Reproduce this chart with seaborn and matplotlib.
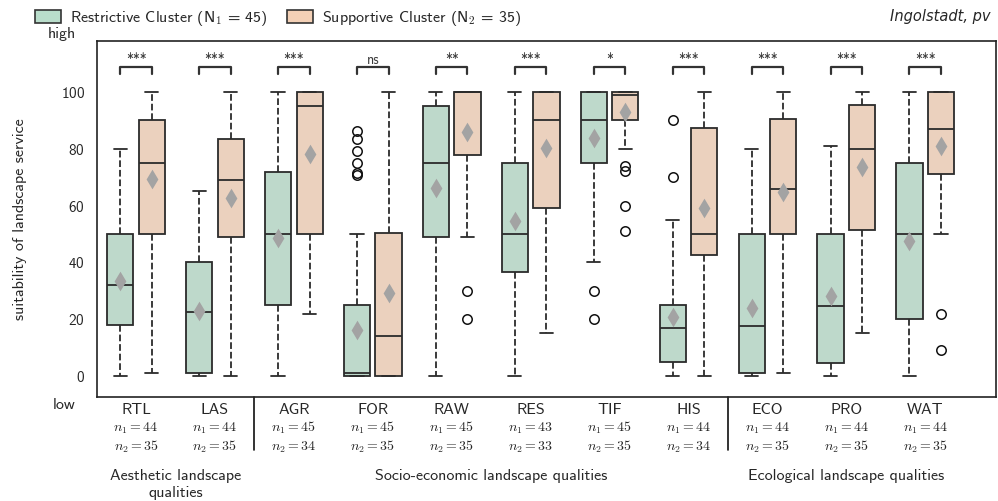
import pandas as pd
import matplotlib.pyplot as plt
import matplotlib.transforms as mtransforms
from matplotlib.patches import Patch
import seaborn as sns

# Categories and sample sizes
categories = ["RTL", "LAS", "AGR", "FOR", "RAW", "RES", "TIF", "HIS", "ECO", "PRO", "WAT"]
n1 = [44, 44, 45, 45, 45, 43, 45, 44, 44, 44, 44]
n2 = [35, 35, 34, 35, 35, 33, 35, 34, 35, 35, 35]
signif = ["***", "***", "***", "ns", "**", "***", "*", "***", "***", "***", "***"]

# Box statistics (restrictive cluster)
r_low = [0, 0, 0, 0, 0, 0, 40, 0, 0, 0, 0]
r_q1 = [18, 1, 25, 0, 49, 36.5, 75, 5, 1, 4.5, 20]
r_med = [32, 22.5, 50, 1, 75, 50, 90, 17, 17.5, 24.5, 50]
r_q3 = [50, 40, 72, 25, 95, 75, 100, 25, 50, 50, 75]
r_high = [80, 65, 100, 50, 100, 100, 100, 55, 80, 81, 100]
r_fliers = [[], [], [], [70.7, 71.6, 75.1, 79.2, 83.3, 86.3], [], [], [20, 30], [70, 90], [], [], []]
r_mean = [33.6, 23, 48.7, 16.2, 66.2, 54.5, 84, 20.7, 23.8, 28.3, 47.7]

# Box statistics (supportive cluster)
s_low = [1, 0, 22, 0, 49, 15, 80, 0, 1, 15, 50]
s_q1 = [50, 49, 50, 0, 78, 59, 90, 42.5, 50, 51.4, 71]
s_med = [75, 69, 95, 14, 100, 90, 99, 50, 66, 80, 87]
s_q3 = [90, 83.6, 100, 50.5, 100, 100, 100, 87.5, 90.6, 95.6, 100]
s_high = [100, 100, 100, 100, 100, 100, 100, 100, 100, 100, 100]
s_fliers = [[], [], [], [], [20, 30], [], [51, 60, 72.2, 74], [], [], [], [9, 22]]
s_mean = [69.4, 62.8, 78.3, 29.1, 86, 80.2, 93, 59, 64.7, 73.7, 80.9]

groups = ["Aesthetic landscape\nqualities", "Socio-economic landscape qualities",
          "Ecological landscape qualities"]
group_centers = [0.5, 4.5, 9]
separators = [1.5, 7.5]

clusters = ["Restrictive Cluster (N$_1$ = 45)", "Supportive Cluster (N$_2$ = 35)"]
green = "#b9ddcb"
orange = "#f3d0b6"


def expand(lo, q1, med, q3, hi, fl):
    lows = [f for f in fl if f < q1] + [lo]
    highs = [hi] + [f for f in fl if f > q3]
    k = max(len(lows), len(highs))
    lows = lows + [lo] * (k - len(lows))
    highs = highs + [hi] * (k - len(highs))
    return lows + [q1] * k + [med] * k + [q3] + highs


rows = []
for i, cat in enumerate(categories):
    for v in expand(r_low[i], r_q1[i], r_med[i], r_q3[i], r_high[i], r_fliers[i]):
        rows.append((cat, clusters[0], v))
    for v in expand(s_low[i], s_q1[i], s_med[i], s_q3[i], s_high[i], s_fliers[i]):
        rows.append((cat, clusters[1], v))
df = pd.DataFrame(rows, columns=["cat", "cluster", "value"])

means = pd.DataFrame({
    "cat": categories * 2,
    "cluster": [clusters[0]] * 11 + [clusters[1]] * 11,
    "mean": r_mean + s_mean,
})

sns.set_style("white")
plt.rcParams["font.family"] = ["cmss10", "DejaVu Sans"]
plt.rcParams["mathtext.fontset"] = "cm"
plt.rcParams["axes.formatter.use_mathtext"] = True
plt.rcParams["axes.unicode_minus"] = False

fig = plt.figure(figsize=(9.98, 5.01), dpi=100)
ax = fig.add_axes([0.0975, 0.2076, 0.9, 0.7106])

sns.boxplot(data=df, x="cat", y="value", hue="cluster", order=categories,
            hue_order=clusters, palette=[green, orange], width=0.8, gap=0.17,
            linecolor="#2b2b2b", linewidth=1.3, whis=1.5,
            whiskerprops=dict(linestyle="--"),
            flierprops=dict(marker="o", markerfacecolor="none",
                            markeredgecolor="#111111", markersize=6.8,
                            markeredgewidth=1.1),
            legend=False, ax=ax)
sns.stripplot(data=means, x="cat", y="mean", hue="cluster", order=categories,
              hue_order=clusters, palette=["#a3a3a3", "#a3a3a3"], dodge=True,
              jitter=False, marker="d", size=10, linewidth=0, legend=False, ax=ax)

ax.set_xlim(-0.49, 10.89)
ax.set_ylim(-7.4, 118)
ax.set_yticks([0, 20, 40, 60, 80, 100])
ax.tick_params(axis="y", length=0, pad=9, labelsize=11)
ax.tick_params(axis="x", length=0, pad=4, labelsize=11.5)
ax.set_xlabel("")
ax.set_ylabel("suitability of landscape service", fontsize=11.5, labelpad=24)
for sp in ax.spines.values():
    sp.set_color("#222222")
    sp.set_linewidth(1.2)

# significance brackets
for i, s in enumerate(signif):
    ax.plot([i - 0.2, i - 0.2, i + 0.2, i + 0.2], [106.4, 108.8, 108.8, 106.4],
            color="#333333", lw=1.6)
    ax.text(i, 108.9, s, ha="center", va="bottom", fontsize=10, color="#3a3a3a")

trans = mtransforms.blended_transform_factory(ax.transData, ax.transAxes)
for i in range(len(categories)):
    ax.text(i, -0.087, f"$n_1 = {n1[i]}$", transform=trans, ha="center",
            va="center", fontsize=10)
    ax.text(i, -0.140, f"$n_2 = {n2[i]}$", transform=trans, ha="center",
            va="center", fontsize=10)
for x in separators:
    ax.plot([x, x], [0, -0.15], transform=trans, color="#111111", lw=1.2,
            clip_on=False)
for x, g in zip(group_centers, groups):
    ax.text(x, -0.203, g, transform=trans, ha="center", va="top", fontsize=11.5,
            linespacing=1.25)

ax.text(-0.024, 1.02, "high", transform=ax.transAxes, ha="right", va="center",
        fontsize=11.5)
ax.text(-0.024, -0.022, "low", transform=ax.transAxes, ha="right", va="center",
        fontsize=11.5)

handles = [Patch(facecolor=green, edgecolor="#333333", linewidth=1.2),
           Patch(facecolor=orange, edgecolor="#333333", linewidth=1.2)]
fig.legend(handles, clusters, loc="upper left", bbox_to_anchor=(0.021, 1.01),
           ncol=2, frameon=False, fontsize=11.5, handlelength=1.6,
           handleheight=0.9, columnspacing=1.2, handletextpad=0.6)
fig.text(0.992, 0.968, "Ingolstadt, pv", ha="right", va="center", fontsize=10.5,
         family="DejaVu Sans", style="italic")

fig.savefig("out.png", dpi=100)
